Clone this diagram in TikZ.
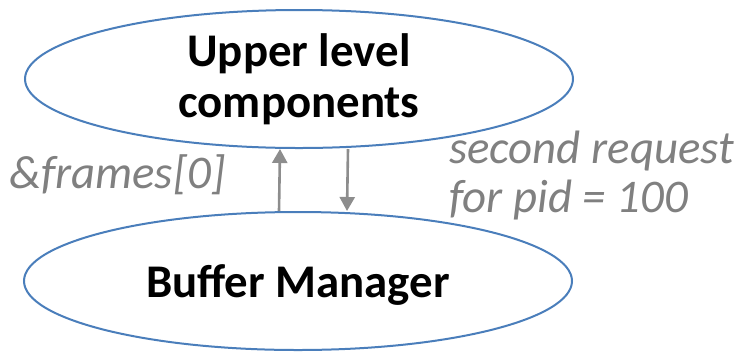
\documentclass[tikz,border=0pt]{standalone}
\usepackage{fontspec}
\setmainfont{Carlito}
\usepackage{tikz}
\usetikzlibrary{arrows.meta,positioning,shapes.geometric}
\definecolor{ovalblue}{RGB}{74,126,187}
\definecolor{notegray}{RGB}{128,128,128}

\begin{document}
\begin{tikzpicture}[x=1bp, y=-1bp,
    comp/.style={draw=ovalblue, line width=2bp, ellipse, inner sep=0pt,
      minimum width=548bp, minimum height=138bp, align=center,
      font=\fontsize{47}{51}\selectfont\bfseries},
    note/.style={text=notegray, inner sep=0pt, align=left,
      font=\fontsize{47}{49}\selectfont\itshape},
    flow/.style={-{Triangle[length=14bp, width=15bp]}, draw=notegray!90, line width=2.6bp}
  ]
  \useasboundingbox (0,0) rectangle (746,352);
  \node[comp] (upper) at (299,79) {Upper level\\components};
  \node[comp, text height=40bp, text depth=8bp] (bufmgr) at (298,281) {Buffer Manager};

  \node[note, anchor=base west] (ptr) at (9,188) {\&frames[0]};
  \node[note, anchor=base west] (req) at (449,212) {second request\\for pid = 100};

  \draw[flow] ([xshift=-19bp]bufmgr.north) -- ([xshift=-19bp]upper.south);
  \draw[flow] ([xshift=49bp]upper.south) -- ([xshift=49bp]bufmgr.north);
\end{tikzpicture}
\end{document}
